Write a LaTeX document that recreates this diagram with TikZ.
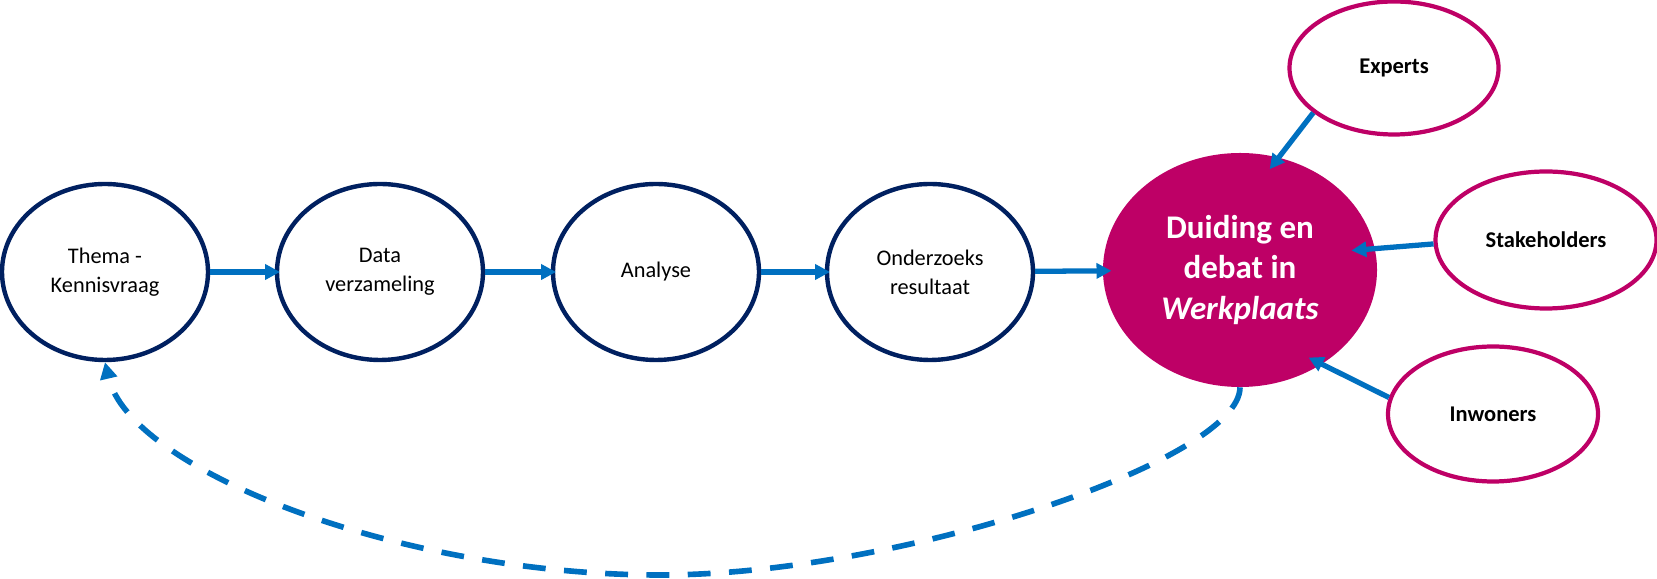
\documentclass[tikz,border=0pt]{standalone}
\usepackage{fontspec}
\setmainfont{Carlito}
\usepackage{tikz}
\usetikzlibrary{shapes,arrows.meta}
\definecolor{navyWP}{RGB}{0,32,96}
\definecolor{magWP}{RGB}{190,0,102}
\definecolor{blueWP}{RGB}{0,112,192}

\begin{document}
\begin{tikzpicture}[line join=round,>={Triangle[length=8.5pt,width=8.5pt]},x=1.0cm,y=1.0cm,
		stap/.style={ellipse,draw=navyWP,line width=2.5pt,minimum width=4.12cm,minimum height=3.52cm,inner sep=0pt,align=center,font=\fontsize{12.7}{16.5}\selectfont},
		partij/.style={ellipse,draw=magWP,line width=2.4pt,inner sep=0pt,align=center,font=\fontsize{12.8}{15}\selectfont\bfseries},
		pijl/.style={->,draw=blueWP,line width=3pt,shorten >=-3pt}]
		\useasboundingbox (0,0) rectangle (33.14,11.58);
		% onderzoeksstappen
		\node[stap] (thema) at (2.10,6.14) {Thema -\\Kennisvraag};
		\node[stap] (data) at (7.60,6.14) {Data\\verzameling};
		\node[stap] (analyse) at (13.12,6.14) {Analyse};
		\node[stap] (resultaat) at (18.60,6.14) {Onderzoeks\\resultaat};
		\node[ellipse,fill=magWP,minimum width=5.48cm,minimum height=4.68cm,inner sep=0pt,align=center,text=white,font=\fontsize{18.8}{22.8}\selectfont\bfseries] (duiding) at (24.80,6.18) {Duiding en\\debat in\\\textit{Werkplaats}};
		% partijen
		\node[partij,minimum width=4.18cm,minimum height=2.66cm] (experts) at (27.88,10.22) {Experts};
		\node[partij,minimum width=4.42cm,minimum height=2.74cm] (stakeholders) at (30.92,6.78) {Stakeholders};
		\node[partij,minimum width=4.20cm,minimum height=2.70cm] (inwoners) at (29.86,3.30) {Inwoners};
		\draw[pijl] (thema) -- (data);
		\draw[pijl] (data) -- (analyse);
		\draw[pijl] (analyse) -- (resultaat);
		\draw[pijl,shorten >=-5pt] (resultaat) -- (duiding);
		\draw[pijl,shorten >=-8.5pt] (experts.209) -- (duiding.71);
		\draw[pijl,shorten >=-13.5pt] (stakeholders.182) -- (duiding.9);
		\draw[pijl,shorten >=-8.5pt] (inwoners.171) -- (duiding.-49);
		% terugkoppeling
		\coordinate (onder) at (13.20,0.08);
		\draw[->,>={Triangle[length=9.5pt,width=9.5pt]},blueWP,line width=3.2pt,dash pattern=on 13pt off 10.5pt] (duiding.south) .. controls (24.80,2.38) and (18.00,0.08) .. (onder) .. controls (8.00,0.08) and (2.60,2.18) .. (thema.south);
\end{tikzpicture}
\end{document}
